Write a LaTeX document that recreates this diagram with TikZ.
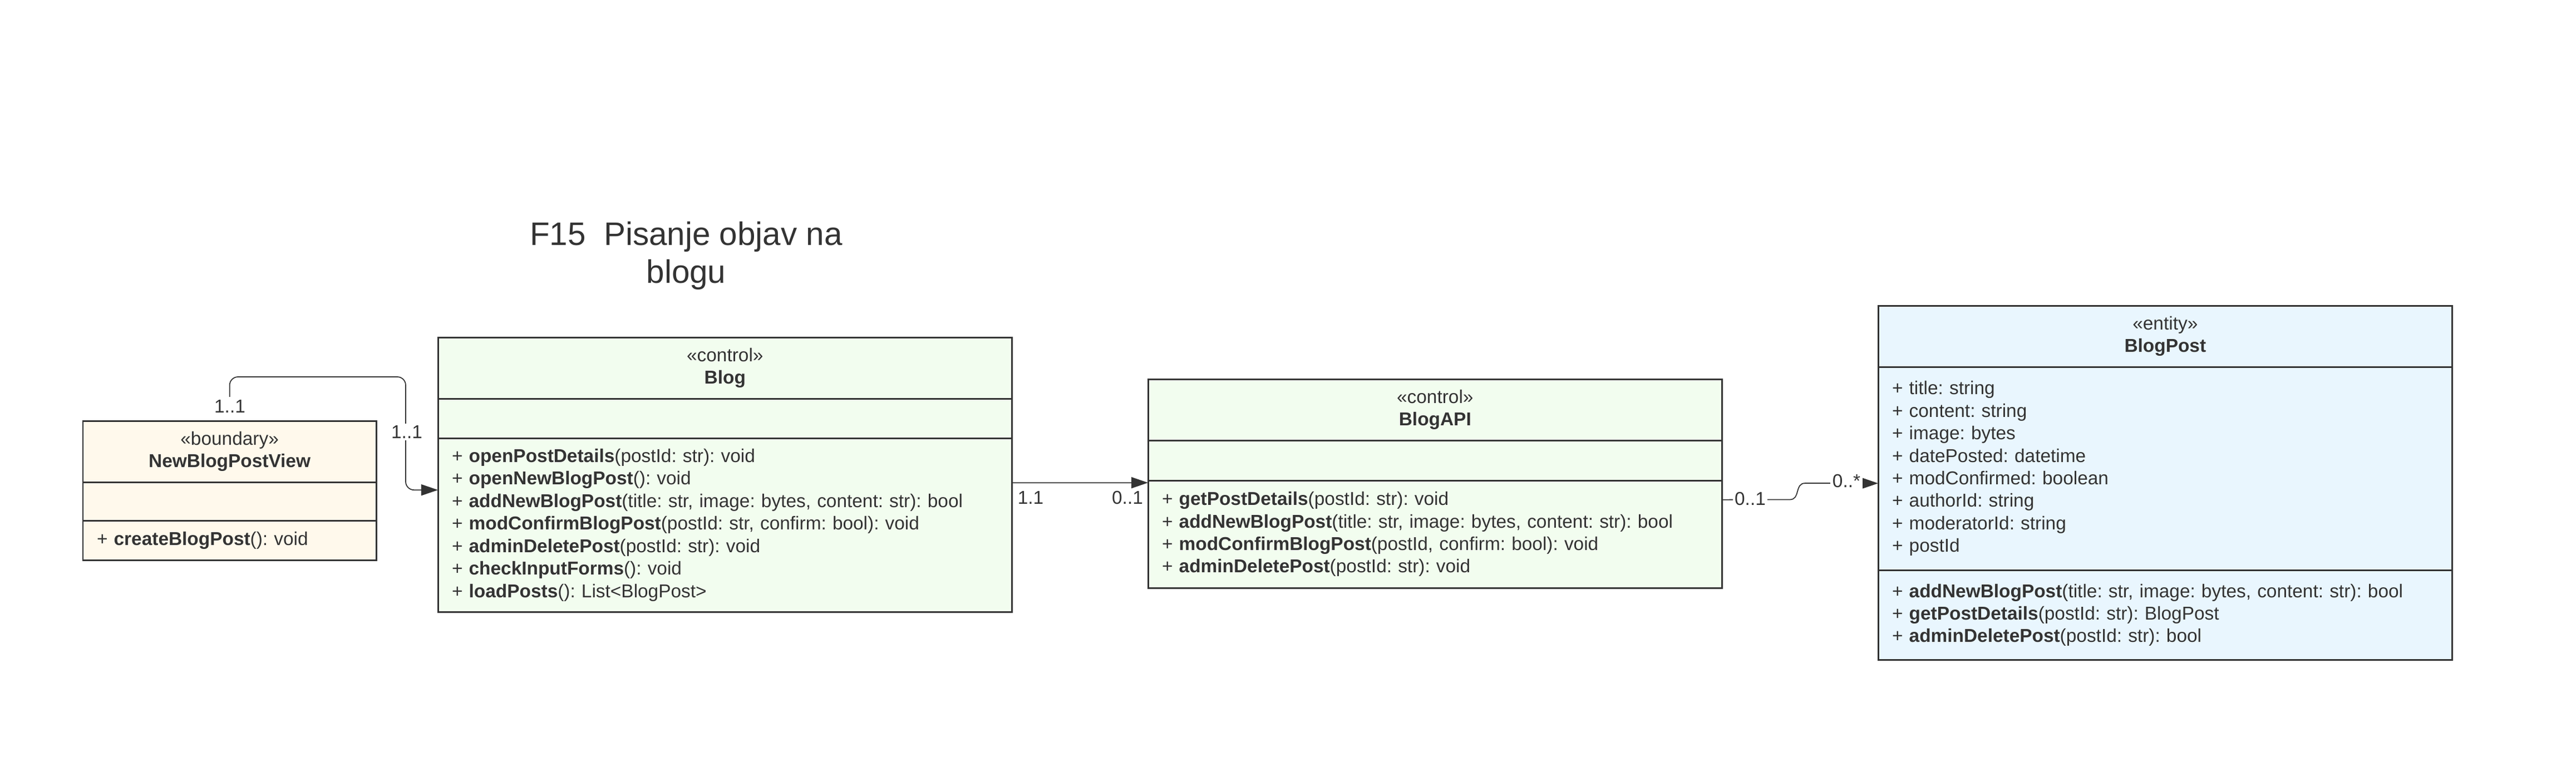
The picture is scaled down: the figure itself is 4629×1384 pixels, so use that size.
\documentclass[tikz,border=0pt]{standalone}
\usepackage{fontspec}
\setmainfont{Liberation Sans}
\usetikzlibrary{arrows.meta}
\definecolor{ink}{HTML}{333333}
\definecolor{boundaryfill}{HTML}{FFF9EC}
\definecolor{controlfill}{HTML}{F2FDEF}
\definecolor{entityfill}{HTML}{E9F6FE}
\frenchspacing
\begin{document}
\begin{tikzpicture}[x=0.01cm, y=-0.01cm,
    font=\fontsize{9.5}{11.5}\selectfont, text=ink,
    part/.style={draw=ink, line width=0.85pt, outer sep=0pt, inner xsep=0.25cm,
        inner ysep=0pt, anchor=north west, align=left},
    head/.style={part, align=center, minimum height=1.1cm},
    assoc/.style={draw=ink, line width=0.5pt, -{Triangle[length=3mm,width=2mm]}},
    mult/.style={fill=white, inner sep=1pt}]
    \useasboundingbox (0,0) rectangle (4629,1384);

    \node[font=\fontsize{16.6}{19.3}\selectfont, align=center, inner sep=0pt] (title) at (1233,459)
        {F15\ \ Pisanje objav na\\blogu};

    % boundary
    \node[head, fill=boundaryfill, text width=4.77cm] (nbv) at (149,756) {«boundary»\\\textbf{NewBlogPostView}};
    \node[part, fill=boundaryfill, text width=4.77cm, minimum height=0.69cm] (nbvattr) at (nbv.south west) {};
    \node[part, fill=boundaryfill, text width=4.77cm, minimum height=0.71cm] (nbvops) at (nbvattr.south west)
        {+ \textbf{createBlogPost}(): void};

    % control Blog
    \node[head, fill=controlfill, text width=9.81cm] (blog) at (787,606) {«control»\\\textbf{Blog}};
    \node[part, fill=controlfill, text width=9.81cm, minimum height=0.71cm] (blogattr) at (blog.south west) {};
    \node[part, fill=controlfill, text width=9.81cm, minimum height=3.12cm] (blogops) at (blogattr.south west)
        {+ \textbf{openPostDetails}(postId: str): void\\
         + \textbf{openNewBlogPost}(): void\\
         + \textbf{addNewBlogPost}(title: str, image: bytes, content: str): bool\\
         + \textbf{modConfirmBlogPost}(postId: str, confirm: bool): void\\
         + \textbf{adminDeletePost}(postId: str): void\\
         + \textbf{checkInputForms}(): void\\
         + \textbf{loadPosts}(): List<BlogPost>};

    % control BlogAPI
    \node[head, fill=controlfill, text width=9.81cm] (api) at (2063,681) {«control»\\\textbf{BlogAPI}};
    \node[part, fill=controlfill, text width=9.81cm, minimum height=0.72cm] (apiattr) at (api.south west) {};
    \node[part, fill=controlfill, text width=9.81cm, minimum height=1.93cm] (apiops) at (apiattr.south west)
        {+ \textbf{getPostDetails}(postId: str): void\\
         + \textbf{addNewBlogPost}(title: str, image: bytes, content: str): bool\\
         + \textbf{modConfirmBlogPost}(postId, confirm: bool): void\\
         + \textbf{adminDeletePost}(postId: str): void};

    % entity
    \node[head, fill=entityfill, text width=9.81cm] (post) at (3375,549) {«entity»\\\textbf{BlogPost}};
    \node[part, fill=entityfill, text width=9.81cm, minimum height=3.65cm] (postattr) at (post.south west)
        {+ title: string\\
         + content: string\\
         + image: bytes\\
         + datePosted: datetime\\
         + modConfirmed: boolean\\
         + authorId: string\\
         + moderatorId: string\\
         + postId};
    \node[part, fill=entityfill, text width=9.81cm, minimum height=1.61cm] (postops) at (postattr.south west)
        {+ \textbf{addNewBlogPost}(title: str, image: bytes, content: str): bool\\
         + \textbf{getPostDetails}(postId: str): BlogPost\\
         + \textbf{adminDeletePost}(postId: str): bool};

    % connectors
    \coordinate (loop) at (729,677);
    \draw[assoc, rounded corners=1.5mm] ([yshift=4.3mm]nbv.north) |- (loop) |- ([yshift=6.3mm]blogops.west);
    \node[mult] (m1) at (413,730) {1..1};
    \node[mult] (m2) at (731,776) {1..1};

    \draw[assoc] ([yshift=7.6mm]blogops.east) -- ([yshift=-0.4mm]apiops.north west);
    \node[inner sep=1pt] (m3) at (1852,894) {1.1};
    \node[inner sep=1pt] (m4) at (2026,894) {0..1};

    \coordinate (jog1) at (3216,897.5);
    \coordinate (jog2) at (3244,868);
    \draw[assoc] ([yshift=6.2mm]apiops.east) -- (jog1) .. controls (3236,897.5) and (3224,868) .. (jog2)
        -- ([yshift=-2.65mm]postattr.west);
    \node[mult] (m5) at (3145,896) {0..1};
    \node[mult] (m6) at (3318,864) {0..*};
\end{tikzpicture}
\end{document}
